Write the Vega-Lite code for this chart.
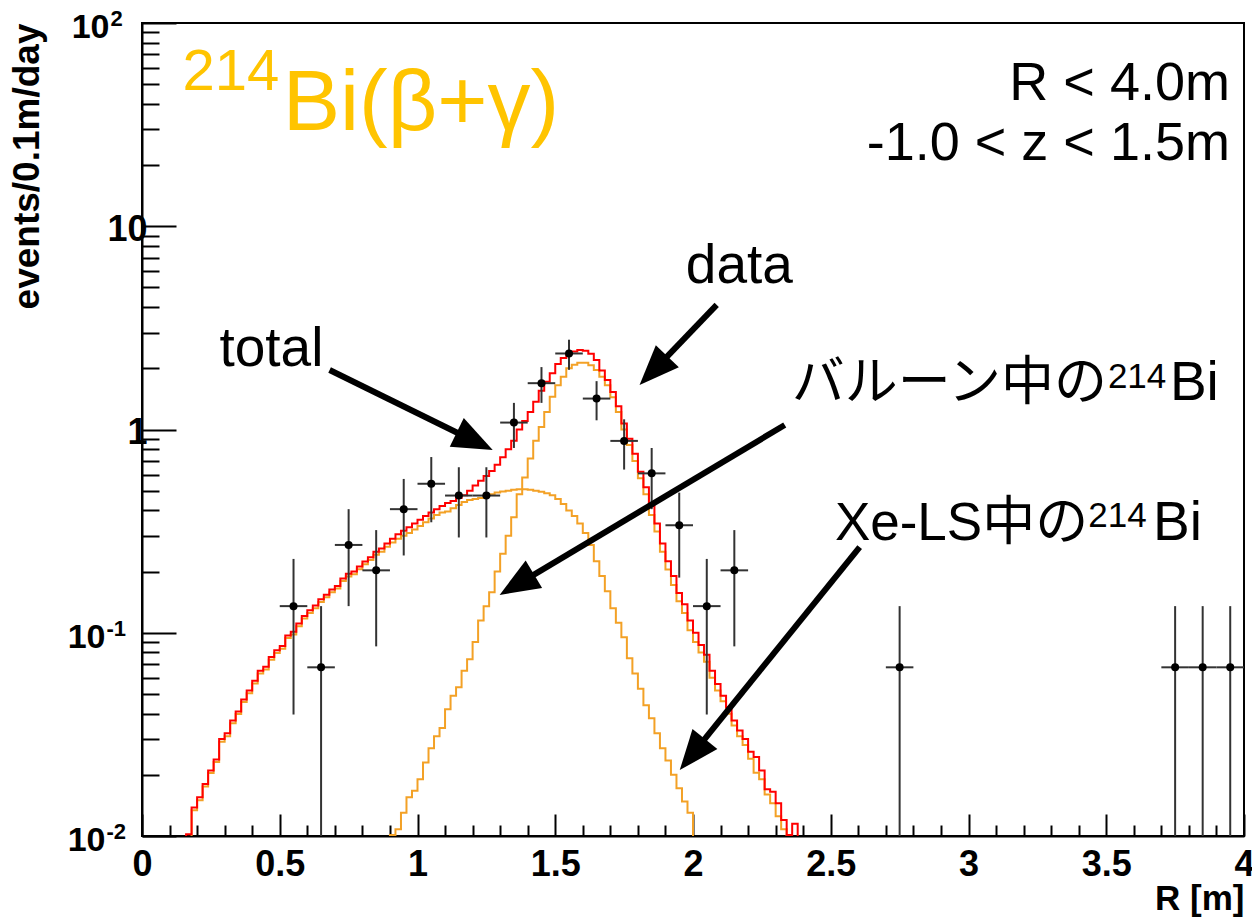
{
  "$schema": "https://vega.github.io/schema/vega-lite/v6.json",
  "width": 1102,
  "height": 813,
  "autosize": "none",
  "padding": {"left": 142, "top": 23, "right": 8, "bottom": 83},
  "background": "white",
  "config": {
    "view": {"stroke": "black", "strokeWidth": 2},
    "font": "Liberation Sans"
  },
  "resolve": {"axis": {"x": "independent"}},
  "datasets": {
    "curves": [
      {"c":"t","x":0.14,"y":0.001},{"c":"t","x":0.16,"y":0.0102},{"c":"t","x":0.18,"y":0.0138},{"c":"t","x":0.20,"y":0.0155},{"c":"t","x":0.22,"y":0.018},{"c":"t","x":0.24,"y":0.021},{"c":"t","x":0.26,"y":0.0238},{"c":"t","x":0.28,"y":0.030},{"c":"t","x":0.30,"y":0.032},{"c":"t","x":0.32,"y":0.037},{"c":"t","x":0.34,"y":0.041},{"c":"t","x":0.36,"y":0.047},{"c":"t","x":0.38,"y":0.052},{"c":"t","x":0.40,"y":0.058},{"c":"t","x":0.42,"y":0.065},{"c":"t","x":0.44,"y":0.068},{"c":"t","x":0.46,"y":0.076},{"c":"t","x":0.48,"y":0.082},{"c":"t","x":0.50,"y":0.086},{"c":"t","x":0.52,"y":0.097},{"c":"t","x":0.54,"y":0.101},{"c":"t","x":0.56,"y":0.111},{"c":"t","x":0.58,"y":0.121},{"c":"t","x":0.60,"y":0.129},{"c":"t","x":0.62,"y":0.136},{"c":"t","x":0.64,"y":0.146},{"c":"t","x":0.66,"y":0.154},{"c":"t","x":0.68,"y":0.163},{"c":"t","x":0.70,"y":0.170},{"c":"t","x":0.72,"y":0.185},{"c":"t","x":0.74,"y":0.195},{"c":"t","x":0.76,"y":0.200},{"c":"t","x":0.78,"y":0.212},{"c":"t","x":0.80,"y":0.224},{"c":"t","x":0.82,"y":0.235},{"c":"t","x":0.84,"y":0.250},{"c":"t","x":0.86,"y":0.260},{"c":"t","x":0.88,"y":0.275},{"c":"t","x":0.90,"y":0.290},{"c":"t","x":0.92,"y":0.305},{"c":"t","x":0.94,"y":0.318},{"c":"t","x":0.96,"y":0.330},{"c":"t","x":0.98,"y":0.345},{"c":"t","x":1.00,"y":0.360},{"c":"t","x":1.02,"y":0.375},{"c":"t","x":1.04,"y":0.390},{"c":"t","x":1.06,"y":0.405},{"c":"t","x":1.08,"y":0.420},{"c":"t","x":1.10,"y":0.435},{"c":"t","x":1.12,"y":0.445},{"c":"t","x":1.14,"y":0.460},{"c":"t","x":1.16,"y":0.475},{"c":"t","x":1.18,"y":0.500},{"c":"t","x":1.20,"y":0.530},{"c":"t","x":1.22,"y":0.560},{"c":"t","x":1.24,"y":0.590},{"c":"t","x":1.26,"y":0.625},{"c":"t","x":1.28,"y":0.670},{"c":"t","x":1.30,"y":0.730},{"c":"t","x":1.32,"y":0.800},{"c":"t","x":1.34,"y":0.880},{"c":"t","x":1.36,"y":1.00},{"c":"t","x":1.38,"y":1.10},{"c":"t","x":1.40,"y":1.22},{"c":"t","x":1.42,"y":1.37},{"c":"t","x":1.44,"y":1.55},{"c":"t","x":1.46,"y":1.72},{"c":"t","x":1.48,"y":1.89},{"c":"t","x":1.50,"y":2.10},{"c":"t","x":1.52,"y":2.25},{"c":"t","x":1.54,"y":2.36},{"c":"t","x":1.56,"y":2.42},{"c":"t","x":1.58,"y":2.46},{"c":"t","x":1.60,"y":2.44},{"c":"t","x":1.62,"y":2.36},{"c":"t","x":1.64,"y":2.20},{"c":"t","x":1.66,"y":1.95},{"c":"t","x":1.68,"y":1.75},{"c":"t","x":1.70,"y":1.53},{"c":"t","x":1.72,"y":1.30},{"c":"t","x":1.74,"y":1.07},{"c":"t","x":1.76,"y":0.90},{"c":"t","x":1.78,"y":0.76},{"c":"t","x":1.80,"y":0.62},{"c":"t","x":1.82,"y":0.52},{"c":"t","x":1.84,"y":0.42},{"c":"t","x":1.86,"y":0.345},{"c":"t","x":1.88,"y":0.275},{"c":"t","x":1.90,"y":0.225},{"c":"t","x":1.92,"y":0.190},{"c":"t","x":1.94,"y":0.157},{"c":"t","x":1.96,"y":0.138},{"c":"t","x":1.98,"y":0.115},{"c":"t","x":2.00,"y":0.100},{"c":"t","x":2.02,"y":0.087},{"c":"t","x":2.04,"y":0.078},{"c":"t","x":2.06,"y":0.065},{"c":"t","x":2.08,"y":0.056},{"c":"t","x":2.10,"y":0.049},{"c":"t","x":2.12,"y":0.043},{"c":"t","x":2.14,"y":0.037},{"c":"t","x":2.16,"y":0.033},{"c":"t","x":2.18,"y":0.030},{"c":"t","x":2.20,"y":0.026},{"c":"t","x":2.22,"y":0.0245},{"c":"t","x":2.24,"y":0.021},{"c":"t","x":2.26,"y":0.017},{"c":"t","x":2.28,"y":0.0165},{"c":"t","x":2.30,"y":0.0145},{"c":"t","x":2.32,"y":0.012},{"c":"t","x":2.34,"y":0.0101},{"c":"t","x":2.36,"y":0.0115},{"c":"t","x":2.38,"y":0.001},
      {"c":"x","x":0.16,"y":0.001},{"c":"x","x":0.18,"y":0.0134},{"c":"x","x":0.20,"y":0.0150},{"c":"x","x":0.22,"y":0.0175},{"c":"x","x":0.24,"y":0.0204},{"c":"x","x":0.26,"y":0.0231},{"c":"x","x":0.28,"y":0.0291},{"c":"x","x":0.30,"y":0.0310},{"c":"x","x":0.32,"y":0.0359},{"c":"x","x":0.34,"y":0.0398},{"c":"x","x":0.36,"y":0.0456},{"c":"x","x":0.38,"y":0.0504},{"c":"x","x":0.40,"y":0.0563},{"c":"x","x":0.42,"y":0.0630},{"c":"x","x":0.44,"y":0.0660},{"c":"x","x":0.46,"y":0.0737},{"c":"x","x":0.48,"y":0.0795},{"c":"x","x":0.50,"y":0.0834},{"c":"x","x":0.52,"y":0.0941},{"c":"x","x":0.54,"y":0.0980},{"c":"x","x":0.56,"y":0.1077},{"c":"x","x":0.58,"y":0.1174},{"c":"x","x":0.60,"y":0.1251},{"c":"x","x":0.62,"y":0.1319},{"c":"x","x":0.64,"y":0.1416},{"c":"x","x":0.66,"y":0.1494},{"c":"x","x":0.68,"y":0.1581},{"c":"x","x":0.70,"y":0.1649},{"c":"x","x":0.72,"y":0.1795},{"c":"x","x":0.74,"y":0.1892},{"c":"x","x":0.76,"y":0.1940},{"c":"x","x":0.78,"y":0.2056},{"c":"x","x":0.80,"y":0.2173},{"c":"x","x":0.82,"y":0.2280},{"c":"x","x":0.84,"y":0.2420},{"c":"x","x":0.86,"y":0.2500},{"c":"x","x":0.88,"y":0.2650},{"c":"x","x":0.90,"y":0.2780},{"c":"x","x":0.92,"y":0.2900},{"c":"x","x":0.94,"y":0.3000},{"c":"x","x":0.96,"y":0.3100},{"c":"x","x":0.98,"y":0.3220},{"c":"x","x":1.00,"y":0.335},{"c":"x","x":1.02,"y":0.350},{"c":"x","x":1.04,"y":0.365},{"c":"x","x":1.06,"y":0.380},{"c":"x","x":1.08,"y":0.390},{"c":"x","x":1.10,"y":0.395},{"c":"x","x":1.12,"y":0.410},{"c":"x","x":1.14,"y":0.425},{"c":"x","x":1.16,"y":0.440},{"c":"x","x":1.18,"y":0.450},{"c":"x","x":1.20,"y":0.455},{"c":"x","x":1.22,"y":0.460},{"c":"x","x":1.24,"y":0.470},{"c":"x","x":1.26,"y":0.480},{"c":"x","x":1.28,"y":0.490},{"c":"x","x":1.30,"y":0.495},{"c":"x","x":1.32,"y":0.500},{"c":"x","x":1.34,"y":0.505},{"c":"x","x":1.36,"y":0.508},{"c":"x","x":1.38,"y":0.508},{"c":"x","x":1.40,"y":0.505},{"c":"x","x":1.42,"y":0.500},{"c":"x","x":1.44,"y":0.494},{"c":"x","x":1.46,"y":0.485},{"c":"x","x":1.48,"y":0.475},{"c":"x","x":1.50,"y":0.455},{"c":"x","x":1.52,"y":0.430},{"c":"x","x":1.54,"y":0.400},{"c":"x","x":1.56,"y":0.375},{"c":"x","x":1.58,"y":0.345},{"c":"x","x":1.60,"y":0.310},{"c":"x","x":1.62,"y":0.270},{"c":"x","x":1.64,"y":0.225},{"c":"x","x":1.66,"y":0.190},{"c":"x","x":1.68,"y":0.160},{"c":"x","x":1.70,"y":0.132},{"c":"x","x":1.72,"y":0.112},{"c":"x","x":1.74,"y":0.095},{"c":"x","x":1.76,"y":0.075},{"c":"x","x":1.78,"y":0.063},{"c":"x","x":1.80,"y":0.053},{"c":"x","x":1.82,"y":0.044},{"c":"x","x":1.84,"y":0.038},{"c":"x","x":1.86,"y":0.032},{"c":"x","x":1.88,"y":0.027},{"c":"x","x":1.90,"y":0.0235},{"c":"x","x":1.92,"y":0.0200},{"c":"x","x":1.94,"y":0.0172},{"c":"x","x":1.96,"y":0.0148},{"c":"x","x":1.98,"y":0.0130},{"c":"x","x":2.00,"y":0.001},
      {"c":"b","x":0.88,"y":0.001},{"c":"b","x":0.90,"y":0.0101},{"c":"b","x":0.92,"y":0.0108},{"c":"b","x":0.94,"y":0.0130},{"c":"b","x":0.96,"y":0.0155},{"c":"b","x":0.98,"y":0.0167},{"c":"b","x":1.00,"y":0.0190},{"c":"b","x":1.02,"y":0.0230},{"c":"b","x":1.04,"y":0.0270},{"c":"b","x":1.06,"y":0.0310},{"c":"b","x":1.08,"y":0.0340},{"c":"b","x":1.10,"y":0.0420},{"c":"b","x":1.12,"y":0.0490},{"c":"b","x":1.14,"y":0.0540},{"c":"b","x":1.16,"y":0.0650},{"c":"b","x":1.18,"y":0.0740},{"c":"b","x":1.20,"y":0.0900},{"c":"b","x":1.22,"y":0.115},{"c":"b","x":1.24,"y":0.135},{"c":"b","x":1.26,"y":0.158},{"c":"b","x":1.28,"y":0.200},{"c":"b","x":1.30,"y":0.245},{"c":"b","x":1.32,"y":0.300},{"c":"b","x":1.34,"y":0.370},{"c":"b","x":1.36,"y":0.480},{"c":"b","x":1.38,"y":0.580},{"c":"b","x":1.40,"y":0.720},{"c":"b","x":1.42,"y":0.880},{"c":"b","x":1.44,"y":1.03},{"c":"b","x":1.46,"y":1.22},{"c":"b","x":1.48,"y":1.45},{"c":"b","x":1.50,"y":1.65},{"c":"b","x":1.52,"y":1.82},{"c":"b","x":1.54,"y":2.00},{"c":"b","x":1.56,"y":2.08},{"c":"b","x":1.58,"y":2.13},{"c":"b","x":1.60,"y":2.13},{"c":"b","x":1.62,"y":2.07},{"c":"b","x":1.64,"y":1.96},{"c":"b","x":1.66,"y":1.82},{"c":"b","x":1.68,"y":1.65},{"c":"b","x":1.70,"y":1.44},{"c":"b","x":1.72,"y":1.22},{"c":"b","x":1.74,"y":1.00},{"c":"b","x":1.76,"y":0.84},{"c":"b","x":1.78,"y":0.70},{"c":"b","x":1.80,"y":0.575},{"c":"b","x":1.82,"y":0.480},{"c":"b","x":1.84,"y":0.380},{"c":"b","x":1.86,"y":0.315},{"c":"b","x":1.88,"y":0.250},{"c":"b","x":1.90,"y":0.205},{"c":"b","x":1.92,"y":0.172},{"c":"b","x":1.94,"y":0.143},{"c":"b","x":1.96,"y":0.125},{"c":"b","x":1.98,"y":0.103},{"c":"b","x":2.00,"y":0.090},{"c":"b","x":2.02,"y":0.080},{"c":"b","x":2.04,"y":0.072},{"c":"b","x":2.06,"y":0.060},{"c":"b","x":2.08,"y":0.052},{"c":"b","x":2.10,"y":0.046},{"c":"b","x":2.12,"y":0.040},{"c":"b","x":2.14,"y":0.035},{"c":"b","x":2.16,"y":0.031},{"c":"b","x":2.18,"y":0.028},{"c":"b","x":2.20,"y":0.024},{"c":"b","x":2.22,"y":0.0205},{"c":"b","x":2.24,"y":0.019},{"c":"b","x":2.26,"y":0.016},{"c":"b","x":2.28,"y":0.0145},{"c":"b","x":2.30,"y":0.0125},{"c":"b","x":2.32,"y":0.0108},{"c":"b","x":2.34,"y":0.001}
    ],
    "pts": [
      {"x":0.55,"xl":0.50,"xr":0.60,"y":0.1352,"lo":0.0396,"hi":0.2308},
      {"x":0.65,"xl":0.60,"xr":0.70,"y":0.0676,"lo":0.01,"hi":0.1352},
      {"x":0.75,"xl":0.70,"xr":0.80,"y":0.2704,"lo":0.1352,"hi":0.4056},
      {"x":0.85,"xl":0.80,"xr":0.90,"y":0.2028,"lo":0.0857,"hi":0.3199},
      {"x":0.95,"xl":0.90,"xr":1.00,"y":0.4056,"lo":0.2400,"hi":0.5712},
      {"x":1.05,"xl":1.00,"xr":1.10,"y":0.5408,"lo":0.3496,"hi":0.7320},
      {"x":1.15,"xl":1.10,"xr":1.20,"y":0.4732,"lo":0.2943,"hi":0.6521},
      {"x":1.25,"xl":1.20,"xr":1.30,"y":0.4732,"lo":0.2943,"hi":0.6521},
      {"x":1.35,"xl":1.30,"xr":1.40,"y":1.0816,"lo":0.8112,"hi":1.3520},
      {"x":1.45,"xl":1.40,"xr":1.50,"y":1.6900,"lo":1.3520,"hi":2.0280},
      {"x":1.55,"xl":1.50,"xr":1.60,"y":2.3660,"lo":1.9661,"hi":2.7659},
      {"x":1.65,"xl":1.60,"xr":1.70,"y":1.4196,"lo":1.1098,"hi":1.7294},
      {"x":1.75,"xl":1.70,"xr":1.80,"y":0.8788,"lo":0.6351,"hi":1.1225},
      {"x":1.85,"xl":1.80,"xr":1.90,"y":0.6084,"lo":0.4056,"hi":0.8112},
      {"x":1.95,"xl":1.90,"xr":2.00,"y":0.3380,"lo":0.1868,"hi":0.4892},
      {"x":2.05,"xl":2.00,"xr":2.10,"y":0.1352,"lo":0.0396,"hi":0.2308},
      {"x":2.15,"xl":2.10,"xr":2.20,"y":0.2028,"lo":0.0857,"hi":0.3199},
      {"x":2.75,"xl":2.70,"xr":2.80,"y":0.0676,"lo":0.01,"hi":0.1352},
      {"x":3.75,"xl":3.70,"xr":3.80,"y":0.0676,"lo":0.01,"hi":0.1352},
      {"x":3.85,"xl":3.80,"xr":3.90,"y":0.0676,"lo":0.01,"hi":0.1352},
      {"x":3.95,"xl":3.90,"xr":4.00,"y":0.0676,"lo":0.01,"hi":0.1352}
    ],
    "arrows": [
      {"name":"data","x":2.086,"y":4.10,"x2":1.857,"y2":1.95,"tx":1.806,"ty":1.655},
      {"name":"total","x":0.681,"y":1.963,"x2":1.207,"y2":0.876,"tx":1.273,"ty":0.793},
      {"name":"balloon","x":2.333,"y":1.052,"x2":1.3606,"y2":0.172,"tx":1.298,"ty":0.1535},
      {"name":"xels","x":2.605,"y":0.264,"x2":1.9975,"y2":0.0252,"tx":1.952,"ty":0.0211}
    ],
    "txt": [
      {"x":1.974,"y":5.26,"t":"data"},
      {"x":0.281,"y":2.053,"t":"total"},
      {"x":3.731,"y":1.397,"t":"Bi"},
      {"x":3.67,"y":0.2858,"t":"Bi"}
    ],
    "jtxt": [
      {"x":2.358,"y":1.397,"t":"バルーン中の"},
      {"x":2.515,"y":0.2858,"t":"Xe-LS中の"}
    ],
    "sup": [
      {"x":3.506,"y":1.60,"t":"214"},
      {"x":3.435,"y":0.3313,"t":"214"}
    ],
    "rtxt": [
      {"x":3.949,"y":41.8,"t":"R < 4.0m"},
      {"x":3.949,"y":21.2,"t":"-1.0 < z < 1.5m"}
    ],
    "ybase": [
      {"x":-0.118,"y":94.5,"t":"10"},
      {"x":-0.1325,"y":0.0945,"t":"10"},
      {"x":-0.1325,"y":0.00945,"t":"10"}
    ],
    "yexp": [
      {"x":-0.1144,"y":104.6,"t":"2"},
      {"x":-0.1289,"y":0.1046,"t":"-1"},
      {"x":-0.1289,"y":0.01046,"t":"-2"}
    ],
    "tsup": [{"x":0.147,"y":46.8,"t":"214"}],
    "tmain": [{"x":0.5105,"y":29.8,"t":"Bi(β+γ)"}]
  },
  "layer": [
    {
      "data": {"name": "curves"},
      "transform": [{"filter": "datum.c != 't'"}],
      "mark": {"type": "line", "interpolate": "step-after", "clip": true, "color": "#f3a126", "strokeWidth": 2},
      "encoding": {
        "x": {"field": "x", "type": "quantitative",
          "scale": {"type": "linear", "domain": [0, 4], "nice": false, "zero": false},
          "axis": {
            "orient": "bottom",
            "values": [0,0.5,1,1.5,2,2.5,3,3.5,4],
            "format": "~g",
            "tickSize": -22,
            "tickColor": "black", "tickWidth": 2,
            "domainColor": "black", "domainWidth": 2,
            "grid": false,
            "labelFont": "Liberation Sans", "labelFontWeight": "bold", "labelFontSize": 36, "labelColor": "black",
            "labelPadding": 33, "labelFlush": false, "labelOverlap": false, "labelBound": false,
            "title": "R [m]", "titleFont": "Liberation Sans", "titleFontWeight": "bold", "titleFontSize": 35, "titleColor": "black",
            "titleAnchor": "end", "titleBaseline": "alphabetic", "titleY": 73
          }
        },
        "y": {"field": "y", "type": "quantitative",
          "scale": {"type": "log", "domain": [0.01, 100], "nice": false},
          "axis": {
            "values": [0.01,0.02,0.03,0.04,0.05,0.06,0.07,0.08,0.09,0.1,0.2,0.3,0.4,0.5,0.6,0.7,0.8,0.9,1,2,3,4,5,6,7,8,9,10,20,30,40,50,60,70,80,90,100],
            "labelExpr": "datum.value == 10 ? '10' : datum.value == 1 ? '1' : ''",
            "tickSize": {"condition": {"test": "indexof([0.01,0.1,1,10,100], datum.value) >= 0", "value": -34}, "value": -17},
            "tickColor": "black", "tickWidth": 2,
            "domainColor": "black", "domainWidth": 2,
            "grid": false,
            "labelFont": "Liberation Sans", "labelFontWeight": "bold", "labelFontSize": 36, "labelColor": "black",
            "labelPadding": 29, "labelOffset": 3,
            "labelFlush": false, "labelOverlap": false, "labelBaseline": "middle",
            "title": "events/0.1m/day", "titleFont": "Liberation Sans", "titleFontWeight": "bold", "titleFontSize": 37, "titleColor": "black",
            "titleAngle": -90, "titleAlign": "right", "titleBaseline": "alphabetic", "titleX": -104, "titleY": 0
          }
        },
        "detail": {"field": "c"}
      }
    },
    {
      "data": {"name": "curves"},
      "transform": [{"filter": "datum.c == 't'"}],
      "mark": {"type": "line", "interpolate": "step-after", "clip": true, "color": "#ff0000", "strokeWidth": 2},
      "encoding": {
        "x": {"field": "x", "type": "quantitative", "scale": {"type": "linear", "domain": [0, 4], "nice": false, "zero": false},
          "axis": {
            "orient": "bottom",
            "values": [0.1,0.2,0.3,0.4,0.6,0.7,0.8,0.9,1.1,1.2,1.3,1.4,1.6,1.7,1.8,1.9,2.1,2.2,2.3,2.4,2.6,2.7,2.8,2.9,3.1,3.2,3.3,3.4,3.6,3.7,3.8,3.9],
            "tickSize": -11, "tickColor": "black", "tickWidth": 2,
            "labels": false, "domain": false, "grid": false, "title": null
          }
        },
        "y": {"field": "y", "type": "quantitative", "scale": {"type": "log", "domain": [0.01, 100], "nice": false}}
      }
    },
    {
      "data": {"name": "pts"},
      "mark": {"type": "rule", "clip": true, "color": "#333333", "strokeWidth": 2},
      "encoding": {
        "x": {"field": "x", "type": "quantitative", "scale": {"type": "linear", "domain": [0, 4], "nice": false, "zero": false}, "axis": null},
        "y": {"field": "lo", "type": "quantitative", "scale": {"type": "log", "domain": [0.01, 100], "nice": false}},
        "y2": {"field": "hi"}
      }
    },
    {
      "data": {"name": "pts"},
      "mark": {"type": "rule", "clip": true, "color": "#333333", "strokeWidth": 2},
      "encoding": {
        "x": {"field": "xl", "type": "quantitative", "scale": {"type": "linear", "domain": [0, 4], "nice": false, "zero": false}, "axis": null},
        "x2": {"field": "xr"},
        "y": {"field": "y", "type": "quantitative", "scale": {"type": "log", "domain": [0.01, 100], "nice": false}}
      }
    },
    {
      "data": {"name": "pts"},
      "mark": {"type": "point", "shape": "circle", "filled": true, "color": "black", "size": 64, "opacity": 1},
      "encoding": {
        "x": {"field": "x", "type": "quantitative", "scale": {"type": "linear", "domain": [0, 4], "nice": false, "zero": false}, "axis": null},
        "y": {"field": "y", "type": "quantitative", "scale": {"type": "log", "domain": [0.01, 100], "nice": false}}
      }
    },
    {
      "data": {"name": "arrows"},
      "mark": {"type": "rule", "color": "black", "strokeWidth": 6, "strokeCap": "butt"},
      "encoding": {
        "x": {"field": "x", "type": "quantitative", "scale": {"type": "linear", "domain": [0, 4], "nice": false, "zero": false}, "axis": null},
        "y": {"field": "y", "type": "quantitative", "scale": {"type": "log", "domain": [0.01, 100], "nice": false}},
        "x2": {"field": "x2"},
        "y2": {"field": "y2"}
      }
    },
    {
      "data": {"name": "arrows"},
      "transform": [{"filter": "datum.name == 'data'"}],
      "mark": {"type": "point", "shape": "M0,0L-0.8,2L0.8,2Z", "filled": true, "color": "black", "size": 1600, "opacity": 1, "strokeWidth": 0, "angle": 224},
      "encoding": {
        "x": {"field": "tx", "type": "quantitative", "scale": {"type": "linear", "domain": [0, 4], "nice": false, "zero": false}, "axis": null},
        "y": {"field": "ty", "type": "quantitative", "scale": {"type": "log", "domain": [0.01, 100], "nice": false}}
      }
    },
    {
      "data": {"name": "arrows"},
      "transform": [{"filter": "datum.name == 'total'"}],
      "mark": {"type": "point", "shape": "M0,0L-0.8,2L0.8,2Z", "filled": true, "color": "black", "size": 1600, "opacity": 1, "strokeWidth": 0, "angle": 116},
      "encoding": {
        "x": {"field": "tx", "type": "quantitative", "scale": {"type": "linear", "domain": [0, 4], "nice": false, "zero": false}, "axis": null},
        "y": {"field": "ty", "type": "quantitative", "scale": {"type": "log", "domain": [0.01, 100], "nice": false}}
      }
    },
    {
      "data": {"name": "arrows"},
      "transform": [{"filter": "datum.name == 'balloon'"}],
      "mark": {"type": "point", "shape": "M0,0L-0.8,2L0.8,2Z", "filled": true, "color": "black", "size": 1600, "opacity": 1, "strokeWidth": 0, "angle": 239},
      "encoding": {
        "x": {"field": "tx", "type": "quantitative", "scale": {"type": "linear", "domain": [0, 4], "nice": false, "zero": false}, "axis": null},
        "y": {"field": "ty", "type": "quantitative", "scale": {"type": "log", "domain": [0.01, 100], "nice": false}}
      }
    },
    {
      "data": {"name": "arrows"},
      "transform": [{"filter": "datum.name == 'xels'"}],
      "mark": {"type": "point", "shape": "M0,0L-0.8,2L0.8,2Z", "filled": true, "color": "black", "size": 1600, "opacity": 1, "strokeWidth": 0, "angle": 219},
      "encoding": {
        "x": {"field": "tx", "type": "quantitative", "scale": {"type": "linear", "domain": [0, 4], "nice": false, "zero": false}, "axis": null},
        "y": {"field": "ty", "type": "quantitative", "scale": {"type": "log", "domain": [0.01, 100], "nice": false}}
      }
    },
    {
      "data": {"name": "txt"},
      "mark": {"type": "text", "align": "left", "baseline": "alphabetic", "fontSize": 55, "font": "Liberation Sans", "color": "black"},
      "encoding": {
        "x": {"field": "x", "type": "quantitative", "scale": {"type": "linear", "domain": [0, 4], "nice": false, "zero": false}, "axis": null},
        "y": {"field": "y", "type": "quantitative", "scale": {"type": "log", "domain": [0.01, 100], "nice": false}},
        "text": {"field": "t"}
      }
    },
    {
      "data": {"name": "jtxt"},
      "mark": {"type": "text", "align": "left", "baseline": "alphabetic", "fontSize": 53, "font": "Liberation Sans, Noto Sans CJK JP", "color": "black"},
      "encoding": {
        "x": {"field": "x", "type": "quantitative", "scale": {"type": "linear", "domain": [0, 4], "nice": false, "zero": false}, "axis": null},
        "y": {"field": "y", "type": "quantitative", "scale": {"type": "log", "domain": [0.01, 100], "nice": false}},
        "text": {"field": "t"}
      }
    },
    {
      "data": {"name": "sup"},
      "mark": {"type": "text", "align": "left", "baseline": "alphabetic", "fontSize": 35, "font": "Liberation Sans", "color": "black"},
      "encoding": {
        "x": {"field": "x", "type": "quantitative", "scale": {"type": "linear", "domain": [0, 4], "nice": false, "zero": false}, "axis": null},
        "y": {"field": "y", "type": "quantitative", "scale": {"type": "log", "domain": [0.01, 100], "nice": false}},
        "text": {"field": "t"}
      }
    },
    {
      "data": {"name": "rtxt"},
      "mark": {"type": "text", "align": "right", "baseline": "alphabetic", "fontSize": 54, "font": "Liberation Sans", "color": "black"},
      "encoding": {
        "x": {"field": "x", "type": "quantitative", "scale": {"type": "linear", "domain": [0, 4], "nice": false, "zero": false}, "axis": null},
        "y": {"field": "y", "type": "quantitative", "scale": {"type": "log", "domain": [0.01, 100], "nice": false}},
        "text": {"field": "t"}
      }
    },
    {
      "data": {"name": "ybase"},
      "mark": {"type": "text", "align": "right", "baseline": "middle", "fontSize": 34, "fontWeight": "bold", "font": "Liberation Sans", "color": "black", "clip": false},
      "encoding": {
        "x": {"field": "x", "type": "quantitative", "scale": {"type": "linear", "domain": [0, 4], "nice": false, "zero": false}, "axis": null},
        "y": {"field": "y", "type": "quantitative", "scale": {"type": "log", "domain": [0.01, 100], "nice": false}},
        "text": {"field": "t"}
      }
    },
    {
      "data": {"name": "yexp"},
      "mark": {"type": "text", "align": "left", "baseline": "middle", "fontSize": 22, "fontWeight": "bold", "font": "Liberation Sans", "color": "black", "clip": false},
      "encoding": {
        "x": {"field": "x", "type": "quantitative", "scale": {"type": "linear", "domain": [0, 4], "nice": false, "zero": false}, "axis": null},
        "y": {"field": "y", "type": "quantitative", "scale": {"type": "log", "domain": [0.01, 100], "nice": false}},
        "text": {"field": "t"}
      }
    },
    {
      "data": {"name": "tsup"},
      "mark": {"type": "text", "align": "left", "baseline": "alphabetic", "fontSize": 58, "font": "Liberation Sans", "color": "#ffc400"},
      "encoding": {
        "x": {"field": "x", "type": "quantitative", "scale": {"type": "linear", "domain": [0, 4], "nice": false, "zero": false}, "axis": null},
        "y": {"field": "y", "type": "quantitative", "scale": {"type": "log", "domain": [0.01, 100], "nice": false}},
        "text": {"field": "t"}
      }
    },
    {
      "data": {"name": "tmain"},
      "mark": {"type": "text", "align": "left", "baseline": "alphabetic", "fontSize": 86, "font": "Liberation Sans", "color": "#ffc400"},
      "encoding": {
        "x": {"field": "x", "type": "quantitative", "scale": {"type": "linear", "domain": [0, 4], "nice": false, "zero": false}, "axis": null},
        "y": {"field": "y", "type": "quantitative", "scale": {"type": "log", "domain": [0.01, 100], "nice": false}},
        "text": {"field": "t"}
      }
    }
  ]
}
